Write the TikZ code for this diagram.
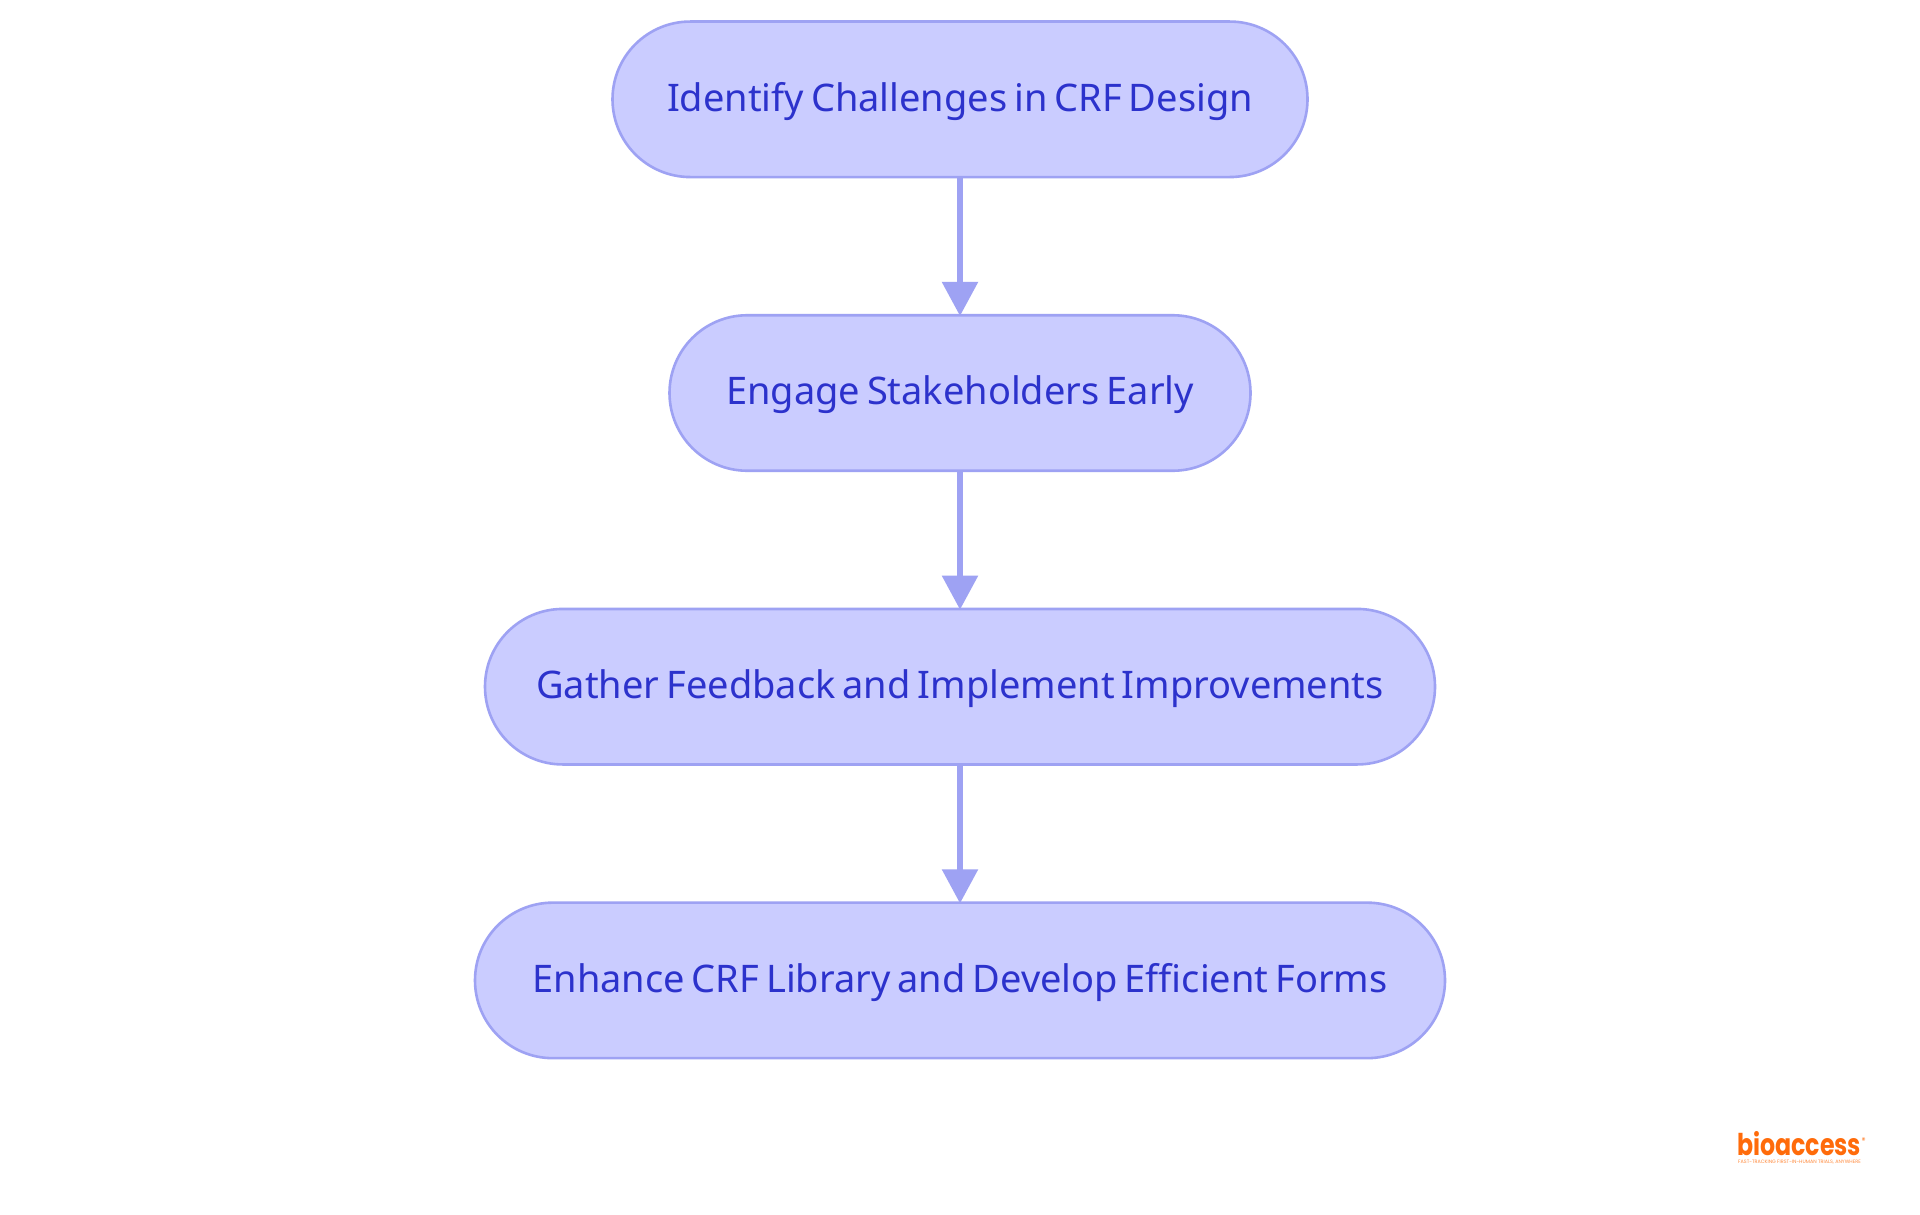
\documentclass[tikz,border=0pt]{standalone}
\usepackage{fontspec}
\usetikzlibrary{shapes.misc,arrows.meta}
\setmainfont[WordSpace=0.7]{Noto Sans}
\newfontfamily\logofont[FakeStretch=0.79]{Poppins}
\newfontfamily\tagfont{Poppins}
\definecolor{nodefill}{RGB}{202,204,255}
\definecolor{nodeline}{RGB}{158,162,243}
\definecolor{nodetext}{RGB}{44,50,204}
\definecolor{logoorange}{RGB}{255,107,10}
\tikzset{
  stepbox/.style={rounded rectangle,draw=nodeline,fill=nodefill,line width=2.6pt,
    minimum height=155.5pt,inner sep=0pt,text=nodetext,
    font=\fontsize{38}{46}\selectfont,text height=34pt,text depth=10.5pt},
  flow/.style={draw=nodeline,line width=5.5pt,shorten >=-2pt,-{Triangle[length=34pt,width=35pt]}},
}
\begin{document}
\begin{tikzpicture}[x=1pt,y=-1pt]
\useasboundingbox (0,0) rectangle (1920,1215);
\fill[white] (0,0) rectangle (1920,1215);
\node[stepbox,minimum width=695pt] (a) at (960,99.3) {Identify Challenges in CRF Design};
\node[stepbox,minimum width=581pt] (b) at (960,393) {Engage Stakeholders Early};
\node[stepbox,minimum width=950pt] (c) at (960,686.7) {Gather Feedback and Implement Improvements};
\node[stepbox,minimum width=970pt] (d) at (960,980.4) {Enhance CRF Library and Develop Efficient Forms};
\draw[flow] (a.south) -- (b.north);
\draw[flow] (b.south) -- (c.north);
\draw[flow] (c.south) -- (d.north);
\node[anchor=base west,inner sep=0pt,text=logoorange,font=\logofont\bfseries\fontsize{30}{30}\selectfont] (logo) at (1737,1155) {bioaccess};
\node[anchor=base west,inner sep=0pt,text=logoorange,font=\tagfont\fontsize{8}{8}\selectfont] (reg) at (1861.5,1143) {®};
\node[anchor=base west,inner sep=0pt,text=logoorange!80,font=\tagfont\fontsize{4.85}{5}\selectfont] (tag) at (1738,1163.5) {FAST-TRACKING FIRST-IN-HUMAN TRIALS, ANYWHERE};
\end{tikzpicture}
\end{document}
